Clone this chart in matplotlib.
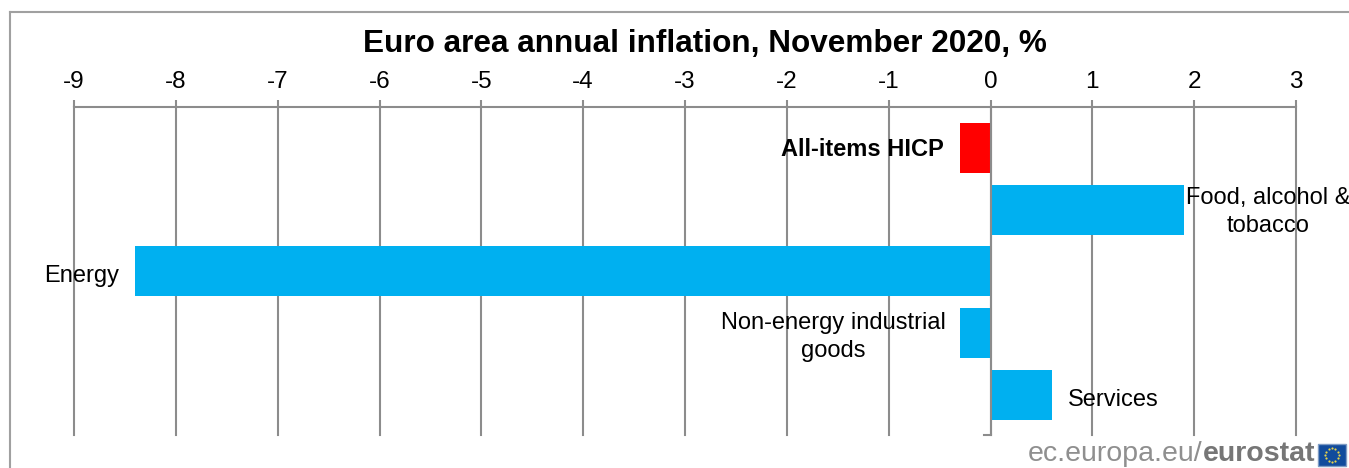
#!/usr/bin/env python3
"""Euro area annual inflation bar chart"""

import numpy as np
import matplotlib
matplotlib.use('Agg')
import matplotlib.pyplot as plt
from matplotlib.lines import Line2D
from matplotlib.patches import Rectangle

W, H = 1349, 468

# Data
categories = ['All-items HICP', 'Food, alcohol &\ntobacco', 'Energy',
              'Non-energy industrial\ngoods', 'Services']
values = [-0.3, 1.9, -8.4, -0.3, 0.6]
bar_colors = ['#ff0000', '#00b0f0', '#00b0f0', '#00b0f0', '#00b0f0']
x_ticks = [-9, -8, -7, -6, -5, -4, -3, -2, -1, 0, 1, 2, 3]

GREY = '#8c8c8c'
plt.rcParams['font.family'] = ['Liberation Sans', 'DejaVu Sans']

fig = plt.figure(figsize=(W / 100, H / 100), dpi=100, facecolor='white')

# Outer chart frame, runs off the right and bottom of the image
fig.add_artist(Line2D([10 / W, 10 / W], [0, 1 - 12 / H], color='#a0a0a0', lw=1.5))
fig.add_artist(Line2D([10 / W, 1], [1 - 12 / H, 1 - 12 / H], color='#a0a0a0', lw=1.5))

# Axes placed by pixel box
left, right, top, bottom = 74, 1296, 107, 435
ax = fig.add_axes([left / W, 1 - bottom / H, (right - left) / W, (bottom - top) / H])
ax.set_xlim(-9, 3)
ax.set_ylim(4.65, -0.664)
ax.set_facecolor('none')

ax.barh(range(len(values)), values, height=0.81, color=bar_colors, zorder=2)

ax.set_xticks(x_ticks)
ax.xaxis.tick_top()
ax.set_xticklabels([str(t) for t in x_ticks], fontsize=17.5, color='black')
ax.tick_params(axis='x', length=5, width=1.5, color=GREY, pad=5)
ax.set_yticks([])
ax.grid(axis='x', color=GREY, lw=1.5, zorder=1, clip_on=False)
ax.set_axisbelow(True)
for side in ['left', 'right', 'bottom']:
    ax.spines[side].set_visible(False)
ax.spines['top'].set_color(GREY)
ax.spines['top'].set_linewidth(1.5)
ax.axvline(0, color=GREY, lw=1.5, zorder=3)
# small category tick at the foot of the zero line
ax.plot([-0.06, 0], [4.65, 4.65], color=GREY, lw=1.5, clip_on=False, zorder=3)

# Title
fig.text(705 / W, 1 - 44 / H, 'Euro area annual inflation, November 2020, %',
         ha='center', va='center', fontsize=22.7, fontweight='bold', color='black')

# Category labels (centre positions in pixels)
label_pos = [(862, 150), (1268, 212), (82, 276), (833, 337), (1113, 400)]
for i, (name, (px, py)) in enumerate(zip(categories, label_pos)):
    fig.text(px / W, 1 - py / H, name, ha='center', va='center', fontsize=17,
             color='black', fontweight='bold' if i == 0 else 'normal',
             linespacing=1.3, zorder=5)

# Eurostat signature
t1 = fig.text(1028 / W, 1 - 461 / H, 'ec.europa.eu/', ha='left', va='baseline',
              fontsize=20.5, color='#8f8f8f')
fig.canvas.draw()
box = t1.get_window_extent()
fig.text(box.x1 / W, 1 - 461 / H, 'eurostat', ha='left', va='baseline',
         fontsize=20.5, fontweight='bold', color='#767676')

flag = fig.add_axes([1318 / W, 1 - 466 / H, 28 / W, 22 / H])
flag.set_xlim(-1.27, 1.27)
flag.set_ylim(-1, 1)
flag.axis('off')
flag.add_patch(Rectangle((-1.27, -1), 2.54, 2, facecolor='#114b9c',
                         edgecolor='#7f9cc4', lw=1, clip_on=False))
angles = np.arange(12) * np.pi / 6
flag.scatter(0.62 * np.cos(angles), 0.62 * np.sin(angles), s=2.5, color='#e8d44a', lw=0)

fig.savefig('out.png', dpi=100, facecolor='white')
